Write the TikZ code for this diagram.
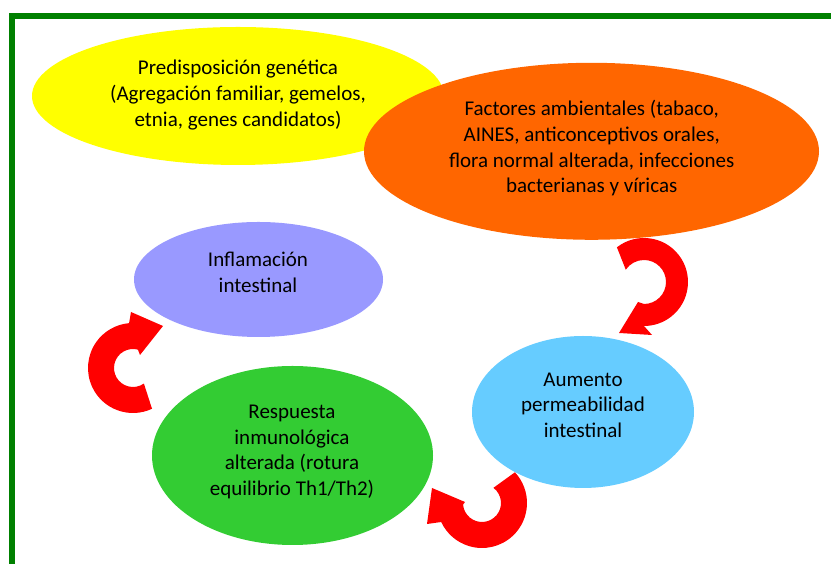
\documentclass[tikz,border=0pt]{standalone}
\usepackage{fontspec}
\setmainfont{Carlito}
\usetikzlibrary{shapes.geometric}
\definecolor{bordergreen}{RGB}{0,128,0}
\definecolor{cyellow}{RGB}{255,255,0}
\definecolor{corange}{RGB}{255,102,0}
\definecolor{cpurple}{RGB}{153,153,255}
\definecolor{cblue}{RGB}{102,204,255}
\definecolor{cgreen}{RGB}{51,204,51}
\definecolor{cred}{RGB}{255,0,0}
\tikzset{
  blob/.style={ellipse, draw=none, inner sep=0pt, outer sep=0pt},
  txt/.style={align=center, inner sep=0pt, font=\fontsize{21}{25.6}\selectfont, text=black},
  curvedarrow/.style={fill=cred, draw=none}
}
\begin{document}
\begin{tikzpicture}[x=1pt,y=1pt]
\useasboundingbox (0,0) rectangle (831,564);
% frame
\fill[bordergreen] (9,545) rectangle (831,550.5);
\fill[bordergreen] (9,0) rectangle (15,550.5);
% ellipses
\node[blob, fill=cyellow, minimum width=412, minimum height=138] (gen) at (238,468) {};
\node[blob, fill=corange, minimum width=455, minimum height=177] (amb) at (591.5,412.7) {};
\node[blob, fill=cpurple, minimum width=249, minimum height=115] (infl) at (258.5,284.5) {};
\node[blob, fill=cgreen, minimum width=281, minimum height=179] (resp) at (292.5,108.5) {};
\node[blob, fill=cblue, minimum width=222, minimum height=152] (perm) at (583,152) {};
% texts
\node[txt] (tgen) at (238,469) {Predisposición genética\\(Agregación familiar, gemelos,\\etnia, genes candidatos)};
\node[txt] (tamb) at (591.7,415.7) {Factores ambientales (tabaco,\\AINES, anticonceptivos orales,\\flora normal alterada, infecciones\\bacterianas y víricas};
\node[txt] (tinfl) at (258,291.5) {Inflamación\\intestinal};
\node[txt] (tresp) at (292,112) {Respuesta\\inmunológica\\alterada (rotura\\equilibrio Th1/Th2)};
\node[txt] (tperm) at (583,159) {Aumento\\permeabilidad\\intestinal};
% curved block arrows
\coordinate (c1) at (644,282);
\fill[curvedarrow] ([shift={(128:44)}]c1) arc[start angle=128, end angle=-90, radius=44]
  -- (652,229) -- (619,231) -- (638,262)
  -- ([shift={(-90:22)}]c1) arc[start angle=-90, end angle=146, radius=22] -- cycle;
\coordinate (c2) at (133,196);
\fill[curvedarrow] ([shift={(-65:45)}]c2) arc[start angle=-65, end angle=-265, radius=45]
  -- (131,252) -- (163,238) -- (140,209)
  -- ([shift={(-285:19)}]c2) arc[start angle=-285, end angle=-55, radius=19] -- cycle;
\coordinate (c3) at (482,61);
\fill[curvedarrow] ([shift={(43:45)}]c3) arc[start angle=43, end angle=-155, radius=45]
  -- (427,40) -- (432,76) -- (465,62)
  -- ([shift={(-175:19)}]c3) arc[start angle=-175, end angle=53, radius=19] -- cycle;
\end{tikzpicture}
\end{document}
